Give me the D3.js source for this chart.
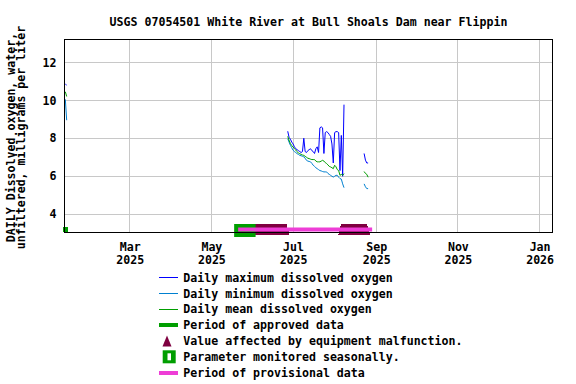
<!DOCTYPE html>
<html>
<head>
<meta charset="utf-8">
<script src="https://cdn.jsdelivr.net/npm/d3@7"></script>
<style>
  html, body { margin: 0; padding: 0; background: #fff; }
  svg text { font-family: "DejaVu Sans Mono", monospace; font-weight: bold; font-size: 11.6px; fill: #000; }
</style>
</head>
<body>
<svg id="chart" width="576" height="384"></svg>
<script>
// --- DATOS ---
const titleText = "USGS 07054501 White River at Bull Shoals Dam near Flippin";
const yTitleLines = ["DAILY Dissolved oxygen, water,", "unfiltered, milligrams per liter"];

// fechas diarias (null en los valores = hueco en la serie)
const dates = [
  "2025-01-12", "2025-01-13", "2025-01-14",
  "2025-06-27", "2025-06-28", "2025-06-29", "2025-06-30",
  "2025-07-01", "2025-07-02", "2025-07-03", "2025-07-04", "2025-07-05", "2025-07-06", "2025-07-07", "2025-07-08",
  "2025-07-09", "2025-07-10", "2025-07-11", "2025-07-12", "2025-07-13", "2025-07-14", "2025-07-15", "2025-07-16",
  "2025-07-17", "2025-07-18", "2025-07-19", "2025-07-20", "2025-07-21", "2025-07-22", "2025-07-23", "2025-07-24",
  "2025-07-25", "2025-07-26", "2025-07-27", "2025-07-28", "2025-07-29", "2025-07-30", "2025-07-31",
  "2025-08-01", "2025-08-02", "2025-08-03", "2025-08-04", "2025-08-05", "2025-08-06", "2025-08-07", "2025-08-08",
  "2025-08-09",
  "2025-08-23", "2025-08-24", "2025-08-25", "2025-08-26"
];
const dailyMax = [
  10.85, 10.80, null,
  8.37, 8.05, 7.95, 7.80,
  7.70, 7.55, 7.45, 7.40, 7.35, 7.30, 7.25, 7.30,
  8.00, 7.30, 7.25, 7.35, 7.40, 7.45, 7.35, 7.30,
  7.20, 7.45, 7.55, 7.25, 8.55, 8.60, 8.55, 7.20,
  8.30, 8.35, 8.30, 8.20, 8.10, 7.70, 6.70,
  8.30, 8.35, 8.35, 8.30, 6.30, 8.15, 6.00, 9.77,
  null,
  7.20, 6.85, 6.70, 6.70
];
const dailyMin = [
  10.05, 8.95, null,
  7.98, 7.80, 7.63, 7.50,
  7.37, 7.30, 7.25, 7.19, 7.15, 7.10, 7.08, 7.05,
  7.02, 6.95, 6.84, 6.80, 6.78, 6.76, 6.68, 6.58,
  6.52, 6.45, 6.40, 6.35, 6.30, 6.28, 6.25, 6.23,
  6.23, 6.23, 6.15, 6.10, 6.05, 6.00, 5.96,
  6.00, 6.05, 6.05, 5.95, 5.88, 5.85, 5.60, 5.40,
  null,
  5.60, 5.45, 5.35, 5.35
];
const dailyMean = [
  10.45, 10.20, null,
  8.10, 7.90, 7.72, 7.62,
  7.54, 7.45, 7.38, 7.30, 7.22, 7.19, 7.15, 7.12,
  7.10, 7.05, 7.00, 6.95, 6.93, 6.90, 6.88, 6.88,
  6.88, 6.80, 6.76, 6.76, 6.76, 6.80, 6.84, 6.80,
  6.72, 6.67, 6.60, 6.52, 6.49, 6.45, 6.40,
  6.58, 6.50, 6.35, 6.30, 6.05, 6.10, 6.05, 6.14,
  null,
  6.25, 6.15, 6.10, 5.95
];

// periodos de calidad del dato
const approvedPeriods = [["2025-01-11", "2025-01-14"]];
const seasonalPeriods = [["2025-05-18", "2025-06-03"]];
const malfunctionPeriods = [["2025-06-04", "2025-06-25"], ["2025-08-07", "2025-08-24"]];
const provisionalPeriods = [["2025-05-21", "2025-08-29"]];

// ejes
const xDomain = ["2025-01-11", "2026-01-11"];
const xTickDates = ["2025-03-01", "2025-05-01", "2025-07-01", "2025-09-01", "2025-11-01", "2026-01-01"];
const xTickMonths = ["Mar", "May", "Jul", "Sep", "Nov", "Jan"];
const xTickYears = ["2025", "2025", "2025", "2025", "2025", "2026"];
const yDomain = [3.04, 13.2];
const yTicks = [4, 6, 8, 10, 12];

const legendLabels = [
  "Daily maximum dissolved oxygen",
  "Daily minimum dissolved oxygen",
  "Daily mean dissolved oxygen",
  "Period of approved data",
  "Value affected by equipment malfunction.",
  "Parameter monitored seasonally.",
  "Period of provisional data"
];

// --- CONFIGURACIÓN ---
const colors = {
  max: "#0000FF", min: "#0080D0", mean: "#009E00",
  approved: "#009E00", malfunction: "#7F0040", provisional: "#EE3DD6", grid: "#C8C8C8"
};
const plot = { left: 64, right: 553, top: 39.5, bottom: 232.5 };
const flagY = 229.5;

const parse = d3.utcParse("%Y-%m-%d");
const svg = d3.select("#chart");

const x = d3.scaleUtc().domain(xDomain.map(parse)).range([plot.left, plot.right]);
const y = d3.scaleLinear().domain(yDomain).range([plot.bottom, plot.top]);
const crisp = v => Math.floor(v) + 0.5;

// título
svg.append("text")
  .attr("x", (plot.left + plot.right) / 2)
  .attr("y", 25.5)
  .attr("text-anchor", "middle")
  .text(titleText);

// rejilla
svg.append("g").selectAll("line")
  .data(xTickDates.map(parse))
  .join("line")
  .attr("x1", d => crisp(x(d))).attr("x2", d => crisp(x(d)))
  .attr("y1", plot.top).attr("y2", plot.bottom)
  .attr("stroke", colors.grid).attr("shape-rendering", "crispEdges");

svg.append("g").selectAll("line")
  .data(yTicks)
  .join("line")
  .attr("x1", plot.left).attr("x2", plot.right)
  .attr("y1", d => crisp(y(d))).attr("y2", d => crisp(y(d)))
  .attr("stroke", colors.grid).attr("shape-rendering", "crispEdges");

// eje Y
const yAxis = svg.append("g")
  .attr("transform", `translate(${plot.left},0)`)
  .call(d3.axisLeft(y).tickValues(yTicks).tickSize(0).tickPadding(7.5));
yAxis.select(".domain").remove();
yAxis.selectAll("text").attr("font-family", null).attr("font-size", null).attr("fill", null);

// eje X (dos líneas por etiqueta)
const xAxis = svg.append("g")
  .attr("transform", `translate(0,${plot.bottom})`)
  .call(d3.axisBottom(x).tickValues(xTickDates.map(parse)).tickSize(0).tickFormat(""));
xAxis.select(".domain").remove();
xAxis.selectAll(".tick").each(function (d, i) {
  const t = d3.select(this);
  t.select("text").remove();
  t.append("text").attr("text-anchor", "middle").attr("y", 18).text(xTickMonths[i]);
  t.append("text").attr("text-anchor", "middle").attr("y", 31.5).text(xTickYears[i]);
});

// título eje Y
yTitleLines.forEach((line, i) => {
  svg.append("text")
    .attr("transform", `translate(${i === 0 ? 15 : 25},137.5) rotate(-90)`)
    .attr("text-anchor", "middle")
    .text(line);
});

// series
const series = [
  { values: dailyMax, color: colors.max },
  { values: dailyMin, color: colors.min },
  { values: dailyMean, color: colors.mean }
];
series.forEach(s => {
  const pts = dates.map((d, i) => ({ date: parse(d), value: s.values[i] }));
  const line = d3.line()
    .defined(d => d.value != null)
    .x(d => x(d.date))
    .y(d => y(d.value));
  svg.append("path")
    .datum(pts)
    .attr("fill", "none")
    .attr("stroke", s.color)
    .attr("stroke-width", 1)
    .attr("d", line);
});

// marcas de calidad: malfunción (un marcador por día)
const triangle = "M0,-5.5L4.5,5.5L-4.5,5.5Z";
const flagMarker = "M-1.5,-5.5L1.5,-5.5L4.5,5.5L-4.5,5.5Z";
malfunctionPeriods.forEach(([a, b]) => {
  const days = d3.utcDay.range(parse(a), d3.utcDay.offset(parse(b), 1));
  svg.append("g").selectAll("path")
    .data(days)
    .join("path")
    .attr("d", flagMarker)
    .attr("transform", d => `translate(${x(d)},${flagY})`)
    .attr("fill", colors.malfunction)
    .attr("shape-rendering", "crispEdges");
});

// monitorizado estacionalmente
svg.append("g").selectAll("rect")
  .data(seasonalPeriods)
  .join("rect")
  .attr("x", d => x(parse(d[0])))
  .attr("width", d => x(parse(d[1])) - x(parse(d[0])))
  .attr("y", flagY - 5.5)
  .attr("height", 13)
  .attr("fill", colors.approved);

// aprobado
svg.append("g").selectAll("line")
  .data(approvedPeriods)
  .join("line")
  .attr("x1", d => x(parse(d[0])) - 1).attr("x2", d => x(parse(d[1])))
  .attr("y1", flagY).attr("y2", flagY)
  .attr("stroke", colors.approved).attr("stroke-width", 5);

// provisional
svg.append("g").selectAll("line")
  .data(provisionalPeriods)
  .join("line")
  .attr("x1", d => x(parse(d[0]))).attr("x2", d => x(parse(d[1])))
  .attr("y1", flagY).attr("y2", flagY)
  .attr("stroke", colors.provisional).attr("stroke-width", 4);

// marco del gráfico
svg.append("rect")
  .attr("x", plot.left + 0.5).attr("y", plot.top)
  .attr("width", plot.right - plot.left - 1).attr("height", plot.bottom - plot.top)
  .attr("fill", "none").attr("stroke", "#000").attr("shape-rendering", "crispEdges");

// --- LEYENDA ---
const legend = svg.append("g");
const lx0 = 159, lx1 = 178, ltx = 183.3, ly0 = 277.3, lstep = 15.9;
const legendLineColors = [colors.max, colors.min, colors.mean];
legendLabels.forEach((label, i) => {
  const cy = ly0 + i * lstep;
  const g = legend.append("g");
  if (i < 3) {
    g.append("rect").attr("x", lx0).attr("y", Math.floor(cy)).attr("width", lx1 - lx0).attr("height", 1)
      .attr("fill", legendLineColors[i]);
  } else if (i === 3 || i === 6) {
    g.append("rect").attr("x", lx0).attr("y", Math.round(cy) - 2).attr("width", lx1 - lx0).attr("height", 4)
      .attr("fill", i === 3 ? colors.approved : colors.provisional);
  } else if (i === 4) {
    g.append("path").attr("d", triangle).attr("transform", `translate(167,${cy})`).attr("fill", colors.malfunction);
  } else {
    g.append("rect").attr("x", 162.7).attr("y", cy - 6.5).attr("width", 13).attr("height", 13).attr("fill", colors.approved);
    g.append("rect").attr("x", 167.5).attr("y", cy - 3.5).attr("width", 3.5).attr("height", 7).attr("fill", "#fff");
  }
  g.append("text").attr("x", ltx).attr("y", cy + 4.3).text(label);
});
</script>
</body>
</html>
